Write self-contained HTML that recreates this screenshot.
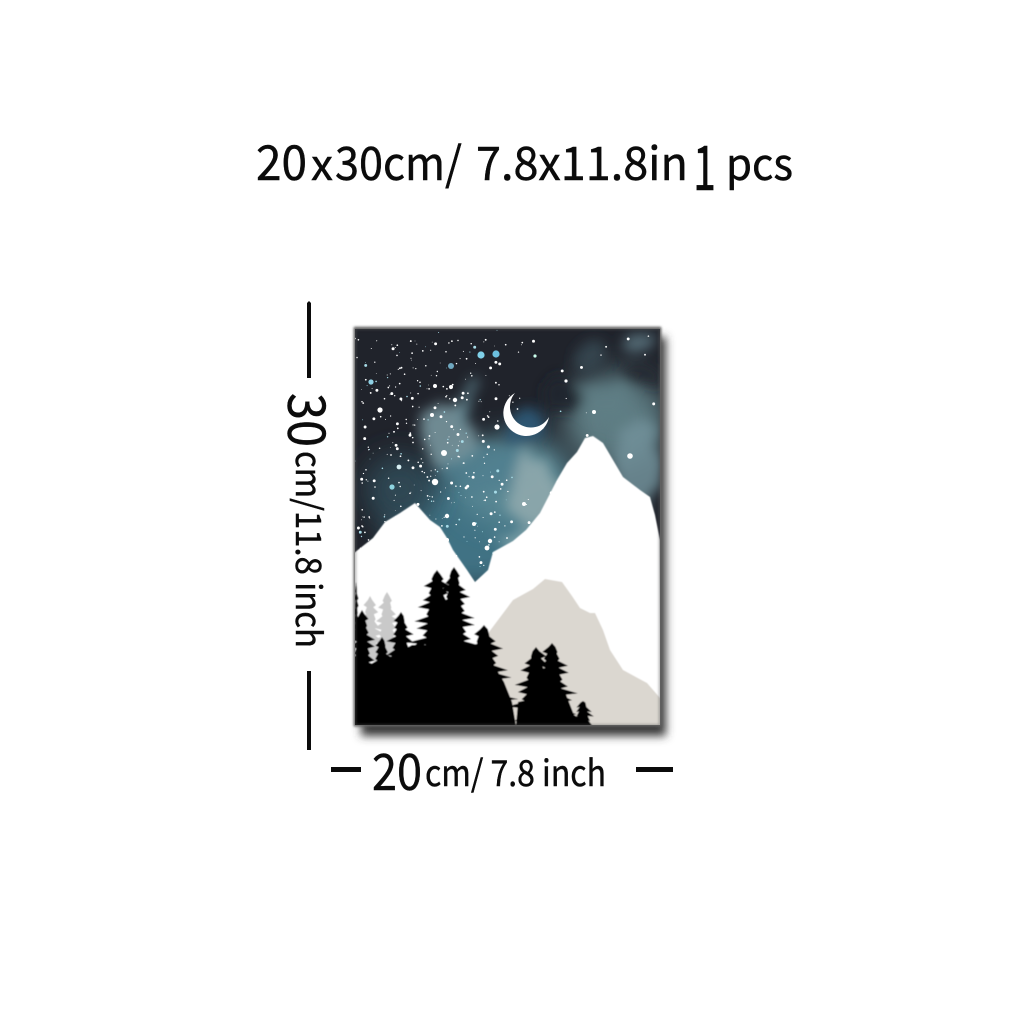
<!DOCTYPE html>
<html lang="en">
<head>
<meta charset="utf-8">
<title>Mountain night canvas print size</title>
<style>
html,body{margin:0;padding:0;background:#fff;width:1024px;height:1024px;overflow:hidden}
svg{display:block}
text{font-family:"Noto Sans CJK SC","Liberation Sans",sans-serif;fill:#0b0b0b;stroke:#0b0b0b;stroke-width:.45}
</style>
</head>
<body>
<svg xmlns="http://www.w3.org/2000/svg" width="1024" height="1024" viewBox="0 0 1024 1024">
<defs>
<filter id="cloud" x="-30%" y="-30%" width="160%" height="160%">
<feTurbulence type="fractalNoise" baseFrequency="0.03" numOctaves="5" seed="5" result="n"/>
<feDisplacementMap in="SourceGraphic" in2="n" scale="34" xChannelSelector="R" yChannelSelector="G" result="d"/>
<feGaussianBlur in="d" stdDeviation="6"/>
</filter>
<filter id="b30" x="-60%" y="-60%" width="220%" height="220%"><feGaussianBlur stdDeviation="14"/></filter>
<filter id="b5" x="-20%" y="-20%" width="140%" height="140%"><feGaussianBlur stdDeviation="4.5"/></filter>
<filter id="b1" x="-5%" y="-5%" width="110%" height="110%"><feGaussianBlur stdDeviation="1.2"/></filter>
<filter id="soft" x="-5%" y="-5%" width="110%" height="110%"><feGaussianBlur stdDeviation="0.45"/></filter>
<clipPath id="poster-clip"><rect x="355" y="329" width="305" height="396"/></clipPath>
</defs>
<rect width="1024" height="1024" fill="#fff"/>

<g>
<text x="256" y="180" font-size="48" textLength="51" lengthAdjust="spacingAndGlyphs">20</text>
<text x="311" y="180" font-size="42" textLength="22" lengthAdjust="spacingAndGlyphs">x</text>
<text x="335" y="180" font-size="46" textLength="127" lengthAdjust="spacingAndGlyphs">30cm/</text>
<text x="476" y="180" font-size="46" textLength="212" lengthAdjust="spacingAndGlyphs">7.8x11.8in</text>
<text x="693" y="190" font-size="62" textLength="23" lengthAdjust="spacingAndGlyphs">1</text>
<text x="726" y="180" font-size="44" textLength="67" lengthAdjust="spacingAndGlyphs">pcs</text>
</g>

<g>
<rect x="361" y="337" width="305" height="399" fill="#3a3a3a" filter="url(#b5)"/>
<rect x="354" y="327" width="307" height="399" fill="#6e6e6e" filter="url(#b1)"/>
<g clip-path="url(#poster-clip)">
<rect x="354" y="329" width="307" height="397" fill="#20232b"/>
<g>
<ellipse cx="470" cy="530" rx="80" ry="60" fill="#3f7284" filter="url(#b30)"/>
<ellipse cx="515" cy="480" rx="60" ry="45" fill="#5a8894" filter="url(#b30)"/>
<ellipse cx="615" cy="420" rx="52" ry="48" fill="#5d7b82" filter="url(#b30)"/>
<ellipse cx="400" cy="490" rx="36" ry="36" fill="#2e4653" filter="url(#b30)"/>
</g>
<g filter="url(#cloud)">
<ellipse cx="447" cy="436" rx="28" ry="34" fill="#7d9ca4" opacity=".85"/>
<ellipse cx="468" cy="400" rx="10" ry="24" fill="#5f8490" opacity=".7"/>
<ellipse cx="490" cy="472" rx="46" ry="24" fill="#4f7e8e" opacity=".8"/>
<ellipse cx="532" cy="492" rx="24" ry="34" fill="#8fa9ad" opacity=".9"/>
<ellipse cx="520" cy="540" rx="20" ry="14" fill="#7fa3aa" opacity=".9"/>
<ellipse cx="526" cy="428" rx="24" ry="18" fill="#2b5a78" opacity=".9"/>
<ellipse cx="640" cy="470" rx="22" ry="50" fill="#71909a" opacity=".85"/>
<ellipse cx="604" cy="402" rx="24" ry="24" fill="#607e85" opacity=".75"/>
<ellipse cx="645" cy="342" rx="18" ry="10" fill="#56707a" opacity=".9"/>
<ellipse cx="590" cy="355" rx="16" ry="12" fill="#3a4b54" opacity=".8"/>
<ellipse cx="565" cy="395" rx="20" ry="14" fill="#1f252c" opacity=".9"/>
<ellipse cx="638" cy="378" rx="18" ry="14" fill="#252a32" opacity=".9"/>
</g>
<g id="stars"></g>
<g filter="url(#soft)">
<path d="M354 553 L373 538 L385 522 L400 513 L415 503 L430 520 L440 527 L447 538 L453 550 L467 570 L475 582 L488 570 L493 552 L513 541 L526 530 L540 513 L557 480 L567 463 L577 452 L585 438 L593 436 L603 443 L613 460 L623 477 L640 490 L650 497 L655 515 L660 540 L661 726 L354 726 Z" fill="#fff"/>
<path d="M489 632 L513 600 L533 589 L545 579 L562 582 L572 596 L580 608 L590 613 L595 613 L603 630 L610 650 L623 670 L647 683 L661 699 L661 726 L489 726 Z" fill="#dbd7d0"/>
<g id="grey-trees" fill="#c9c9c9"></g>
<g id="black-trees" fill="#050505"></g>
<path d="M354 658 L372 666 L392 656 L412 645 L474 644 L492 662 L504 682 L512 702 L516 726 L354 726 Z" fill="#050505"/>
<path d="M516 726 L518 702 L565 692 L574 715 L592 726 Z" fill="#050505"/>
</g>
<path d="M515 393 A23 23 0 1 0 549 417 A20.9 20.9 0 1 1 515 393 Z" fill="#fff"/>
</g>
<rect x="355" y="328.5" width="305" height="397" fill="none" stroke="#5a5a5a" stroke-width="2.2" opacity=".55" filter="url(#b1)"/>
</g>

<g>
<path d="M309 301 L311 303 L311 378 L307 378 L307 303 Z" fill="#0b0b0b"/>
<rect x="307" y="671" width="4" height="79" fill="#0b0b0b"/>
<text transform="translate(288,393) rotate(90)" font-size="52" textLength="54" lengthAdjust="spacingAndGlyphs">30</text>
<text transform="translate(296,451) rotate(90)" font-size="35" textLength="197" lengthAdjust="spacingAndGlyphs">cm/11.8 inch</text>
</g>

<g>
<rect x="331" y="767" width="30" height="5" fill="#0b0b0b"/>
<rect x="636" y="767" width="37" height="5" fill="#0b0b0b"/>
<text x="372" y="790" font-size="50" textLength="50" lengthAdjust="spacingAndGlyphs">20</text>
<text x="425" y="786" font-size="36" textLength="181" lengthAdjust="spacingAndGlyphs">cm/ 7.8 inch</text>
</g>
</svg>
<script>
var NS = 'http://www.w3.org/2000/svg';
var starCount = 520;
var brightStars = [[481,355,3.6,'#7fd0e8'],[496,354,3.6,'#6cc0e0'],[451,366,3,'#6fa8c0'],[371,382,2.6,'#8fd0e4'],[380,410,2.6,'#fff'],[435,386,2,'#fff'],[451,387,2,'#fff'],[444,453,3,'#fff'],[497,427,2.6,'#fff'],[435,482,3.2,'#fff'],[399,467,2.4,'#d8f0f4'],[392,487,2.6,'#8fd4e0'],[630,456,2.8,'#fff'],[594,412,2,'#fff'],[524,504,2,'#fff'],[474,524,2,'#fff'],[447,516,2.2,'#fff'],[487,548,2.4,'#fff'],[490,541,2.2,'#fff'],[455,400,2.2,'#fff'],[432,415,2,'#fff'],[535,356,1.6,'#cfe'],[566,381,1.6,'#fff'],[447,540,2,'#fff']];
var seed = 7;
function rnd(){ seed = (seed * 16807) % 2147483647; return seed / 2147483647; }
var starLayer = document.getElementById('stars');
function addStar(x, y, r, c){
  var s = document.createElementNS(NS, 'circle');
  s.setAttribute('cx', x); s.setAttribute('cy', y); s.setAttribute('r', r); s.setAttribute('fill', c);
  
  
  starLayer.appendChild(s);
}
for (var i = 0; i < starCount; i++) {
  var x, y;
  if (rnd() < 0.65) { x = 360 + rnd() * 175 ; y = 340 + rnd() * 230; }
  else { x = 354 + rnd() * 307; y = 330 + rnd() * 240; }
  if (x >= 500 && rnd() < 0.65) continue;
  var r = rnd();
  addStar(x.toFixed(1), y.toFixed(1), (r < 0.85 ? 0.35 + r * 0.7 : 1 + r * 0.5).toFixed(2), rnd() < 0.15 ? '#a8dce8' : '#fff');
}
brightStars.forEach(function(s){ addStar(s[0], s[1], s[2], s[3]); });

function makeTree(parent, cx, top, base, hw){
  var L = [], R = [];
  var n = Math.max(6, Math.round((base - top) / 7));
  for (var k = 1; k <= n; k++) {
    var t = k / n, y = top + (base - top) * t;
    var w = hw * Math.pow(t, 0.5);
    var jl = 0.95 + 0.35 * Math.sin(k * 2.3 + cx), jr = 0.95 + 0.35 * Math.sin(k * 1.7 + top);
    L.push((cx - w * 0.45).toFixed(1) + ' ' + (y - 3).toFixed(1));
    L.push((cx - w * jl).toFixed(1) + ' ' + (y + 2).toFixed(1));
    R.push((cx + w * 0.45).toFixed(1) + ' ' + (y - 3).toFixed(1));
    R.push((cx + w * jr).toFixed(1) + ' ' + (y + 2).toFixed(1));
  }
  var d = 'M' + cx + ' ' + top;
  R.forEach(function(p){ d += ' L' + p; });
  d += ' L' + cx + ' ' + base;
  L.slice().reverse().forEach(function(p){ d += ' L' + p; });
  d += ' Z';
  var p = document.createElementNS(NS, 'path');
  p.setAttribute('d', d);
  
  
  parent.appendChild(p);
}
var grey = document.getElementById('grey-trees');
makeTree(grey, 370, 596, 660, 15);
makeTree(grey, 387, 592, 660, 16);
var black = document.getElementById('black-trees');
var blackTrees = [[437,570,690,30],[454,567,700,28],[401,612,680,18],[382,637,690,15],[362,610,700,19],[356,582,640,4],[484,625,726,32],[536,647,726,26],[552,643,726,26],[583,701,728,13],[420,640,700,22]];
blackTrees.forEach(function(t){ makeTree(black, t[0], t[1], t[2], t[3]); });
</script>
</body>
</html>
